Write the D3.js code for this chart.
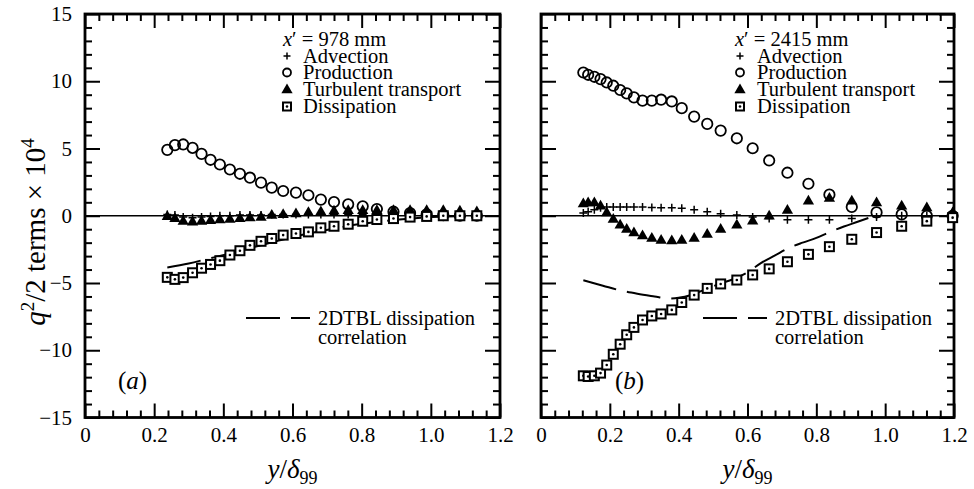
<!DOCTYPE html>
<html>
<head>
<meta charset="utf-8">
<script src="https://cdn.jsdelivr.net/npm/d3@7"></script>
<style>
  body { margin: 0; background: #fff; }
  svg { display: block; }
</style>
</head>
<body>
<svg id="chart" width="974" height="489" font-family="Liberation Serif"></svg>
<script>
// tick values
var xMajor = [0, 0.2, 0.4, 0.6, 0.8, 1.0, 1.2];
var yMajor = [-15, -10, -5, 0, 5, 10, 15];

// panel (a), x' = 978 mm
var xsA   = [0.238, 0.260, 0.284, 0.311, 0.337, 0.363, 0.390, 0.419, 0.448, 0.477, 0.509, 0.540, 0.573,
             0.610, 0.646, 0.682, 0.720, 0.761, 0.803, 0.844, 0.892, 0.940, 0.988, 1.036, 1.084, 1.133];
var advA  = [0.1, 0.05, -0.1, -0.15, -0.1, -0.05, 0, 0, 0.05, 0.05, 0.05, 0.1, 0.1,
             0.1, 0.1, 0.1, 0.1, 0.1, 0.1, 0.1, 0.1, 0.05, 0.05, 0, 0, 0];
var prodA = [4.9, 5.25, 5.3, 5.05, 4.6, 4.16, 3.81, 3.44, 3.12, 2.83, 2.46, 2.09, 1.84,
             1.72, 1.52, 1.2, 1.02, 0.85, 0.7, 0.5, 0.3, 0.2, 0.1, 0.05, 0, 0];
var turbA = [0.0, -0.15, -0.35, -0.4, -0.35, -0.3, -0.25, -0.2, -0.15, -0.1, -0.05, 0.1, 0.15,
             0.2, 0.3, 0.35, 0.4, 0.45, 0.45, 0.45, 0.45, 0.45, 0.45, 0.45, 0.4, 0.35];
var dissA = [-4.58, -4.73, -4.6, -4.24, -3.9, -3.62, -3.34, -2.92, -2.6, -2.2, -1.9, -1.69, -1.44,
             -1.32, -1.2, -0.9, -0.78, -0.63, -0.41, -0.28, -0.21, -0.1, -0.05, 0, 0, 0];
var corrAx = [0.238, 0.30, 0.36, 0.42, 0.50, 0.56, 0.64, 0.72, 0.80, 0.90, 1.00, 1.13];
var corrAy = [-3.84, -3.55, -3.17, -2.8, -2.25, -1.85, -1.35, -0.95, -0.6, -0.3, -0.1, 0];

// panel (b), x' = 2415 mm
var xsB   = [0.123, 0.137, 0.155, 0.173, 0.191, 0.210, 0.230, 0.249, 0.270, 0.295, 0.322, 0.349, 0.380, 0.409,
             0.445, 0.483, 0.522, 0.569, 0.615, 0.663, 0.716, 0.777, 0.838, 0.903, 0.975, 1.048, 1.121, 1.196];
var advB  = [0.2, 0.3, 0.45, 0.6, 0.65, 0.65, 0.65, 0.65, 0.65, 0.65, 0.62, 0.6, 0.6, 0.55,
             0.45, 0.3, 0.15, 0.05, -0.1, -0.2, -0.3, -0.3, -0.3, -0.2, -0.1, 0, 0, 0];
var prodB = [10.65, 10.48, 10.33, 10.16, 9.91, 9.67, 9.35, 9.1, 8.8, 8.56, 8.56, 8.63, 8.5, 8.0,
             7.37, 6.83, 6.33, 5.76, 5.02, 4.11, 3.2, 2.38, 1.57, 0.65, 0.25, 0.1, 0, 0];
var turbB = [0.95, 1.02, 1.02, 0.78, 0.28, -0.21, -0.63, -0.95, -1.2, -1.44, -1.62, -1.76, -1.81, -1.76,
             -1.62, -1.32, -0.95, -0.63, -0.33, 0.04, 0.46, 1.15, 1.35, 1.15, 1.02, 0.78, 0.65, 0.28];
var dissB = [-11.9, -11.95, -11.9, -11.7, -11.1, -10.3, -9.55, -8.85, -8.3, -7.75, -7.45, -7.3, -7.0, -6.45,
             -5.9, -5.4, -5.07, -4.78, -4.4, -3.95, -3.42, -2.87, -2.3, -1.75, -1.25, -0.78, -0.4, -0.14];
var corrBx = [0.123, 0.18, 0.23, 0.28, 0.33, 0.37, 0.40, 0.44, 0.48, 0.52, 0.56, 0.60, 0.64, 0.68,
              0.72, 0.76, 0.80, 0.84, 0.88, 0.92, 0.97];
var corrBy = [-4.8, -5.2, -5.55, -5.8, -6.0, -6.15, -6.1, -5.85, -5.45, -5.05, -4.7, -4.2, -3.5, -2.95,
              -2.4, -2.0, -1.65, -1.2, -0.8, -0.45, 0.0];

var svg = d3.select("#chart");
var yTop = 14, yBottom = 417.5;

var y = d3.scaleLinear().domain([-15, 15]).range([yBottom, yTop]);

function xFmt(d) { return d === 0 ? "0" : d3.format(".1f")(d); }

var xMinor = d3.range(0, 31).filter(function(i) { return i % 5 !== 0; }).map(function(i) { return i * 0.04; });
var yMinor = d3.range(-15, 16).filter(function(v) { return v % 5 !== 0; });

var panels = [
  { x0: 85, x1: 500, xs: xsA, adv: advA, prod: prodA, turb: turbA, diss: dissA,
    cx: corrAx, cy: corrAy, station: "978", label: "a", labelX: 118, yLabels: true,
    legX: 283, legText: 303, legSym: 287, corrX: 246 },
  { x0: 541, x1: 954, xs: xsB, adv: advB, prod: prodB, turb: turbB, diss: dissB,
    cx: corrBx, cy: corrBy, station: "2415", label: "b", labelX: 615, yLabels: false,
    legX: 735, legText: 757, legSym: 740, corrX: 703 }
];

var triangle = d3.symbol().type(d3.symbolTriangle).size(55);

function drawCircle(g, cx, cy, r) {
  g.append("circle").attr("cx", cx).attr("cy", cy).attr("r", r)
    .attr("fill", "none").attr("stroke", "#000").attr("stroke-width", 1.8);
}
function drawPlus(g, cx, cy, s) {
  g.append("path").attr("d", "M" + (cx - s) + "," + cy + "h" + 2 * s + "M" + cx + "," + (cy - s) + "v" + 2 * s)
    .attr("stroke", "#000").attr("stroke-width", 1.5);
}
function drawTri(g, cx, cy) {
  g.append("path").attr("d", triangle()).attr("transform", "translate(" + cx + "," + (cy + 1) + ")")
    .attr("fill", "#000");
}
function drawSquare(g, cx, cy, s) {
  g.append("rect").attr("x", cx - s / 2).attr("y", cy - s / 2).attr("width", s).attr("height", s)
    .attr("fill", "#fff").attr("stroke", "#000").attr("stroke-width", 2);
  g.append("circle").attr("cx", cx).attr("cy", cy).attr("r", 1.3).attr("fill", "#000");
}

panels.forEach(function(p) {
  var x = d3.scaleLinear().domain([0, 1.2]).range([p.x0, p.x1]);
  var g = svg.append("g");

  // minor and major ticks, all pointing inward
  g.append("g").attr("transform", "translate(0," + yBottom + ")")
    .call(d3.axisBottom(x).tickValues(xMinor).tickSize(-7).tickFormat(""));
  g.append("g").attr("transform", "translate(0," + yTop + ")")
    .call(d3.axisTop(x).tickValues(xMinor).tickSize(-7).tickFormat(""));
  g.append("g").attr("transform", "translate(" + p.x0 + ",0)")
    .call(d3.axisLeft(y).tickValues(yMinor).tickSize(-7).tickFormat(""));
  g.append("g").attr("transform", "translate(" + p.x1 + ",0)")
    .call(d3.axisRight(y).tickValues(yMinor).tickSize(-7).tickFormat(""));

  g.append("g").attr("transform", "translate(0," + yBottom + ")")
    .call(d3.axisBottom(x).tickValues(xMajor).tickSize(-14).tickPadding(10).tickFormat(xFmt));
  g.append("g").attr("transform", "translate(0," + yTop + ")")
    .call(d3.axisTop(x).tickValues(xMajor).tickSize(-14).tickFormat(""));
  g.append("g").attr("transform", "translate(" + p.x0 + ",0)")
    .call(d3.axisLeft(y).tickValues(yMajor).tickSize(-15).tickPadding(13)
      .tickFormat(p.yLabels ? d3.format("") : ""));
  g.append("g").attr("transform", "translate(" + p.x1 + ",0)")
    .call(d3.axisRight(y).tickValues(yMajor).tickSize(-15).tickFormat(""));

  g.selectAll(".domain").remove();
  g.selectAll(".tick line").attr("stroke", "#000").attr("stroke-width", 2);
  g.selectAll("g").attr("font-family", null).attr("font-size", null);
  g.selectAll(".tick text").attr("font-size", 21).attr("fill", "#000");

  // frame
  g.append("rect").attr("x", p.x0).attr("y", yTop).attr("width", p.x1 - p.x0).attr("height", yBottom - yTop)
    .attr("fill", "none").attr("stroke", "#000").attr("stroke-width", 2.8);

  // zero line
  g.append("line").attr("x1", p.x0).attr("x2", p.x1).attr("y1", y(0)).attr("y2", y(0))
    .attr("stroke", "#000").attr("stroke-width", 1.5);

  // dissipation correlation
  var corr = p.cx.map(function(v, i) { return [v, p.cy[i]]; });
  g.append("path")
    .attr("d", d3.line().x(function(d) { return x(d[0]); }).y(function(d) { return y(d[1]); })
      .curve(d3.curveMonotoneX)(corr))
    .attr("fill", "none").attr("stroke", "#000").attr("stroke-width", 2)
    .attr("stroke-dasharray", "34,11");

  // data symbols
  var m = g.append("g");
  p.xs.forEach(function(v, i) { drawCircle(m, x(v), y(p.prod[i]), 5.2); });
  p.xs.forEach(function(v, i) { drawPlus(m, x(v), y(p.adv[i]), 4); });
  p.xs.forEach(function(v, i) { drawTri(m, x(v), y(p.turb[i])); });
  p.xs.forEach(function(v, i) { drawSquare(m, x(v), y(p.diss[i]), 9); });

  // legend
  var lg = g.append("g").attr("font-size", 20.5).attr("fill", "#000");
  var t0 = lg.append("text").attr("x", p.legX).attr("y", 46);
  t0.append("tspan").attr("font-style", "italic").text("x");
  t0.append("tspan").text("\u2032 = " + p.station + " mm");
  var rows = ["Advection", "Production", "Turbulent transport", "Dissipation"];
  var base = [62.5, 79, 96, 113];
  rows.forEach(function(r, i) {
    lg.append("text").attr("x", p.legText).attr("y", base[i]).text(r);
  });
  drawPlus(lg, p.legSym, base[0] - 6.5, 3.5);
  drawCircle(lg, p.legSym, base[1] - 6.5, 4);
  drawTri(lg, p.legSym, base[2] - 7);
  drawSquare(lg, p.legSym, base[3] - 6.5, 8);

  // correlation legend
  lg.append("path").attr("d", "M" + p.corrX + ",318h64")
    .attr("stroke", "#000").attr("stroke-width", 2).attr("stroke-dasharray", "34,11");
  lg.append("text").attr("x", p.corrX + 72).attr("y", 325).text("2DTBL dissipation");
  lg.append("text").attr("x", p.corrX + 72).attr("y", 344).text("correlation");

  // panel label
  var pl = g.append("text").attr("x", p.labelX).attr("y", 389).attr("font-size", 25);
  pl.append("tspan").text("(");
  pl.append("tspan").attr("font-style", "italic").text(p.label);
  pl.append("tspan").text(")");

  // x-axis title
  var xt = g.append("text").attr("x", (p.x0 + p.x1) / 2).attr("y", 478)
    .attr("text-anchor", "middle").attr("font-size", 27);
  xt.append("tspan").attr("font-style", "italic").text("y");
  xt.append("tspan").text("/");
  xt.append("tspan").attr("font-style", "italic").text("\u03b4");
  xt.append("tspan").attr("font-size", 18).attr("dy", 6).text("99");
});

// y-axis title
var yt = svg.append("text").attr("transform", "translate(45,232) rotate(-90)")
  .attr("text-anchor", "middle").attr("font-size", 29);
yt.append("tspan").attr("font-style", "italic").text("q");
yt.append("tspan").attr("font-size", 19).attr("dy", -11).text("2");
yt.append("tspan").attr("dy", 11).text("/2 terms \u00d7 10");
yt.append("tspan").attr("font-size", 19).attr("dy", -11).text("4");
</script>
</body>
</html>
